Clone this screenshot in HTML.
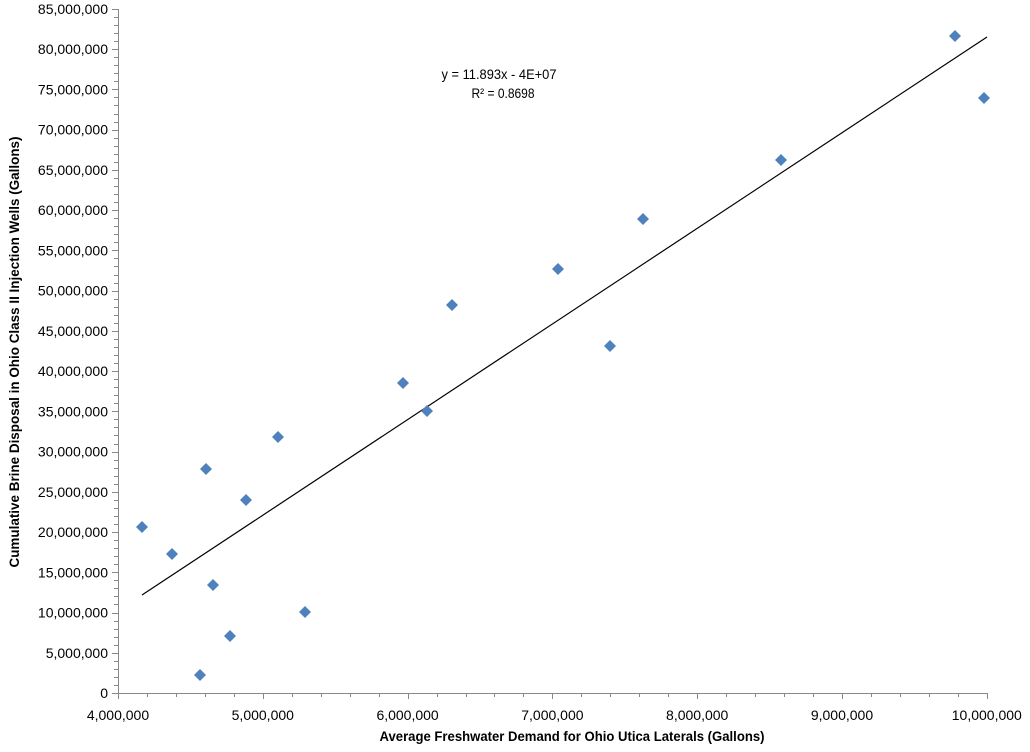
<!DOCTYPE html><html><head><style>body{margin:0;background:#fff}svg{font-family:"Liberation Sans",sans-serif}</style></head><body>
<svg width="1030" height="747" xmlns="http://www.w3.org/2000/svg">
<g stroke="#888" stroke-width="1">
<line x1="118.5" y1="9" x2="118.5" y2="693"/>
<line x1="118" y1="693.5" x2="988" y2="693.5"/>
</g>
<g id="yt" stroke="#888"></g><g id="xt" stroke="#888"></g>
<g id="yl" font-size="14" text-anchor="end" fill="#000"></g>
<g id="xl" font-size="14" text-anchor="middle" fill="#000"></g>
<line x1="142" y1="595" x2="987" y2="37" stroke="#000" stroke-width="1.2"/>
<g id="pts" fill="#4f81bd"></g>
<text x="499" y="79" font-size="14" text-anchor="middle" textLength="115" lengthAdjust="spacingAndGlyphs">y = 11.893x - 4E+07</text>
<text x="503" y="98" font-size="14" text-anchor="middle" textLength="63" lengthAdjust="spacingAndGlyphs">R² = 0.8698</text>
<text x="572" y="741" font-size="14" font-weight="bold" text-anchor="middle" textLength="385" lengthAdjust="spacingAndGlyphs">Average Freshwater Demand for Ohio Utica Laterals (Gallons)</text>
<text transform="translate(19,352) rotate(-90)" font-size="14" font-weight="bold" text-anchor="middle" textLength="431" lengthAdjust="spacingAndGlyphs">Cumulative Brine Disposal in Ohio Class II Injection Wells (Gallons)</text>
</svg>
<script>
const ns="http://www.w3.org/2000/svg";
function el(p,t,a,txt){const e=document.createElementNS(ns,t);for(const k in a)e.setAttribute(k,a[k]);if(txt)e.textContent=txt;document.getElementById(p).appendChild(e);}
const Y=v=>693-v/5e6*40.24, X=v=>118+(v-4e6)/1e6*144.8;
for(let i=0;i<=85;i++){const y=Math.round(Y(i*1e6))+.5;el("yt","line",{x1:i%5?114:112,x2:118,y1:y,y2:y});
 if(i%5==0)el("yl","text",{x:108,y:Y(i*1e6)+5},(i*1e6).toLocaleString("en-US"));}
for(let i=0;i<=30;i++){const x=Math.round(X(4e6+i*2e5))+.5;el("xt","line",{x1:x,x2:x,y1:693,y2:i%5?697:699});
 if(i%5==0)el("xl","text",{x:X(4e6+i*2e5),y:720},(4e6+i*2e5).toLocaleString("en-US"));}
[[142,527],[172,554],[200,675],[206,469],[213,585],[230,636],[246,500],[278,437],[305,612],[403,383],[427,411],[452,305],[558,269],[610,346],[643,219],[781,160],[955,36],[984,98]].forEach(([x,y])=>el("pts","polygon",{points:`${x},${y-6} ${x+6},${y} ${x},${y+6} ${x-6},${y}`}));
</script></body></html>
